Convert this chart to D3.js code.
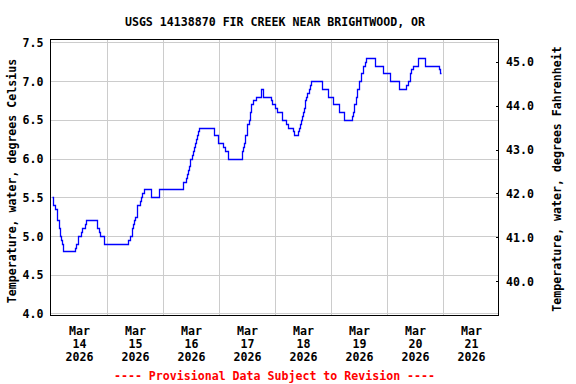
<!DOCTYPE html>
<html>
<head>
<meta charset="utf-8">
<script src="https://cdn.jsdelivr.net/npm/d3@7"></script>
<style>
  html, body { margin: 0; padding: 0; background: #fff; }
  svg { display: block; }
  text { font-family: "DejaVu Sans Mono", monospace; font-weight: bold; font-size: 11.6px; fill: #000; }
</style>
</head>
<body>
<svg id="chart" width="576" height="384"></svg>
<script>
// ---- Data ----
const title = "USGS 14138870 FIR CREEK NEAR BRIGHTWOOD, OR";
const leftLabel = "Temperature, water, degrees Celsius";
const rightLabel = "Temperature, water, degrees Fahrenheit";
const footnote = "---- Provisional Data Subject to Revision ----";

const times = [
  "2026-03-14T00:15","2026-03-14T00:45","2026-03-14T01:30","2026-03-14T02:15","2026-03-14T02:30",
  "2026-03-14T03:15","2026-03-14T03:45","2026-03-14T04:15","2026-03-14T04:45","2026-03-14T05:00",
  "2026-03-14T10:15","2026-03-14T10:30","2026-03-14T11:30","2026-03-14T12:45","2026-03-14T13:15",
  "2026-03-14T14:30","2026-03-14T15:00","2026-03-14T19:45","2026-03-14T20:15","2026-03-14T21:00",
  "2026-03-14T22:45","2026-03-15T08:45","2026-03-15T09:30","2026-03-15T10:30","2026-03-15T11:00",
  "2026-03-15T11:30","2026-03-15T12:00","2026-03-15T12:30","2026-03-15T12:45","2026-03-15T14:00",
  "2026-03-15T14:30","2026-03-15T15:00","2026-03-15T15:45","2026-03-15T18:30","2026-03-15T22:00",
  "2026-03-16T08:30","2026-03-16T09:30","2026-03-16T10:00","2026-03-16T10:30","2026-03-16T11:00",
  "2026-03-16T11:15","2026-03-16T12:15","2026-03-16T12:45","2026-03-16T13:00","2026-03-16T13:30",
  "2026-03-16T14:00","2026-03-16T14:30","2026-03-16T15:00","2026-03-16T15:15","2026-03-16T21:45",
  "2026-03-16T23:15","2026-03-17T01:30","2026-03-17T02:15","2026-03-17T03:45","2026-03-17T09:30",
  "2026-03-17T10:15","2026-03-17T10:30","2026-03-17T11:00","2026-03-17T11:45","2026-03-17T12:00",
  "2026-03-17T12:30","2026-03-17T13:00","2026-03-17T13:45","2026-03-17T14:30","2026-03-17T15:30",
  "2026-03-17T17:45","2026-03-17T18:30","2026-03-17T22:15","2026-03-17T22:45","2026-03-18T00:00",
  "2026-03-18T00:30","2026-03-18T02:45","2026-03-18T03:00","2026-03-18T04:45","2026-03-18T05:15",
  "2026-03-18T07:30","2026-03-18T08:00","2026-03-18T09:45","2026-03-18T10:15","2026-03-18T10:30",
  "2026-03-18T11:00","2026-03-18T11:30","2026-03-18T12:00","2026-03-18T12:15","2026-03-18T12:45",
  "2026-03-18T13:15","2026-03-18T13:30","2026-03-18T14:15","2026-03-18T14:45","2026-03-18T15:15",
  "2026-03-18T20:00","2026-03-18T22:30","2026-03-19T00:30","2026-03-19T03:15","2026-03-19T05:30",
  "2026-03-19T08:45","2026-03-19T09:15","2026-03-19T09:45","2026-03-19T10:30","2026-03-19T11:00",
  "2026-03-19T11:45","2026-03-19T12:30","2026-03-19T13:30","2026-03-19T14:15","2026-03-19T14:45",
  "2026-03-19T18:45","2026-03-19T22:15","2026-03-20T01:00","2026-03-20T05:00","2026-03-20T08:00",
  "2026-03-20T09:00","2026-03-20T09:30","2026-03-20T10:15","2026-03-20T11:00","2026-03-20T13:00",
  "2026-03-20T16:15","2026-03-20T22:15","2026-03-20T22:45","2026-03-20T23:00"
];
const tempC = [
  5.5,5.4,5.35,5.3,5.2,
  5.1,5.0,4.95,4.9,4.8,
  4.85,4.9,5.0,5.05,5.1,
  5.15,5.2,5.1,5.05,5.0,
  4.9,4.95,5.0,5.1,5.15,
  5.2,5.25,5.3,5.4,5.45,
  5.5,5.55,5.6,5.5,5.6,
  5.7,5.75,5.8,5.85,5.9,
  6.0,6.05,6.1,6.15,6.2,
  6.25,6.3,6.35,6.4,6.3,
  6.2,6.15,6.1,6.0,6.1,
  6.15,6.2,6.3,6.4,6.45,
  6.5,6.6,6.7,6.75,6.8,
  6.9,6.8,6.75,6.7,6.65,
  6.6,6.55,6.5,6.45,6.4,
  6.35,6.3,6.35,6.4,6.45,
  6.5,6.55,6.6,6.65,6.75,
  6.8,6.85,6.9,6.95,7.0,
  6.9,6.8,6.7,6.6,6.5,
  6.55,6.6,6.7,6.8,6.9,
  7.0,7.1,7.2,7.25,7.3,
  7.2,7.1,7.0,6.9,6.95,
  7.0,7.1,7.15,7.2,7.3,
  7.2,7.15,7.1,7.1
];
const yTicksC = [4.0, 4.5, 5.0, 5.5, 6.0, 6.5, 7.0, 7.5];
const yTicksF = [40, 41, 42, 43, 44, 45];
const xDays = ["2026-03-14","2026-03-15","2026-03-16","2026-03-17","2026-03-18","2026-03-19","2026-03-20","2026-03-21"];
const xStart = "2026-03-14T00:00";
const xEnd = "2026-03-22T00:00";

// ---- Layout ----
const frame = { x0: 50.5, y0: 39.5, x1: 498.5, y1: 315.5 };
const parse = d3.timeParse("%Y-%m-%dT%H:%M");
const parseDay = d3.timeParse("%Y-%m-%d");

const x = d3.scaleTime().domain([parse(xStart), parse(xEnd)]).range([51.4, 499.4]);
const yC = d3.scaleLinear().domain([4.0, 7.5]).range([313.3, 42.4]);
const yF = d3.scaleLinear().domain([40, 45]).range([281.3, 61.7]);
const px = v => Math.round(v) + 0.5; // snap to pixel centres

const svg = d3.select("#chart");

// clip
svg.append("defs").append("clipPath").attr("id", "clip")
  .append("rect").attr("x", frame.x0).attr("y", frame.y0)
  .attr("width", frame.x1 - frame.x0).attr("height", frame.y1 - frame.y0);

// gridlines
const grid = svg.append("g").attr("clip-path", "url(#clip)")
  .attr("stroke", "#cccccc").attr("stroke-width", 1).attr("shape-rendering", "crispEdges");
grid.selectAll("line.h").data(yTicksC).join("line").attr("class", "h")
  .attr("x1", frame.x0).attr("x2", frame.x1)
  .attr("y1", d => px(yC(d))).attr("y2", d => px(yC(d)));
grid.selectAll("line.v").data(xDays.slice(1)).join("line").attr("class", "v")
  .attr("x1", d => px(x(parseDay(d)))).attr("x2", d => px(x(parseDay(d))))
  .attr("y1", frame.y0).attr("y2", frame.y1);

// data line
const data = times.map((t, i) => ({ t: parse(t), v: tempC[i] }));
const line = d3.line().x(d => px(x(d.t))).y(d => px(yC(d.v))).curve(d3.curveStepAfter);
svg.append("path").datum(data).attr("clip-path", "url(#clip)")
  .attr("d", line).attr("fill", "none").attr("stroke", "#0000ff")
  .attr("stroke-width", 1.3).attr("stroke-linejoin", "miter");

// frame
svg.append("rect").attr("x", frame.x0).attr("y", frame.y0)
  .attr("width", frame.x1 - frame.x0).attr("height", frame.y1 - frame.y0)
  .attr("fill", "none").attr("stroke", "#000").attr("stroke-width", 1)
  .attr("shape-rendering", "crispEdges");

// left axis labels
const fmt1 = d3.format(".1f");
svg.append("g").selectAll("text").data(yTicksC).join("text")
  .attr("x", 43.5).attr("y", d => yC(d) + 4.6)
  .attr("text-anchor", "end").text(d => fmt1(d));

// right axis ticks + labels
const rAxis = svg.append("g");
rAxis.selectAll("line").data(yTicksF).join("line")
  .attr("x1", 495.5).attr("x2", 499)
  .attr("y1", d => px(yF(d))).attr("y2", d => px(yF(d)))
  .attr("stroke", "#000").attr("shape-rendering", "crispEdges");
rAxis.selectAll("text").data(yTicksF).join("text")
  .attr("x", 506).attr("y", d => yF(d) + 4.2)
  .attr("text-anchor", "start").text(d => fmt1(d));

// x axis labels (centered at noon of each day)
const fmtMon = d3.timeFormat("%b"), fmtDay = d3.timeFormat("%d"), fmtYr = d3.timeFormat("%Y");
const xl = svg.append("g").selectAll("text").data(xDays).join("text")
  .attr("text-anchor", "middle")
  .attr("transform", d => `translate(${x(d3.timeHour.offset(parseDay(d), 12))},0)`);
xl.append("tspan").attr("x", 0).attr("y", 334.6).text(d => fmtMon(parseDay(d)));
xl.append("tspan").attr("x", 0).attr("y", 348.2).text(d => fmtDay(parseDay(d)));
xl.append("tspan").attr("x", 0).attr("y", 361.4).text(d => fmtYr(parseDay(d)));

// title
svg.append("text").attr("x", 275).attr("y", 26.4).attr("text-anchor", "middle").text(title);

// axis titles
svg.append("text").attr("transform", "translate(16,181) rotate(-90)")
  .attr("text-anchor", "middle").text(leftLabel);
svg.append("text").attr("transform", "translate(561,179) rotate(-90)")
  .attr("text-anchor", "middle").text(rightLabel);

// footnote
svg.append("text").attr("x", 274.5).attr("y", 380).attr("text-anchor", "middle")
  .style("fill", "#ff0000").text(footnote);
</script>
</body>
</html>
